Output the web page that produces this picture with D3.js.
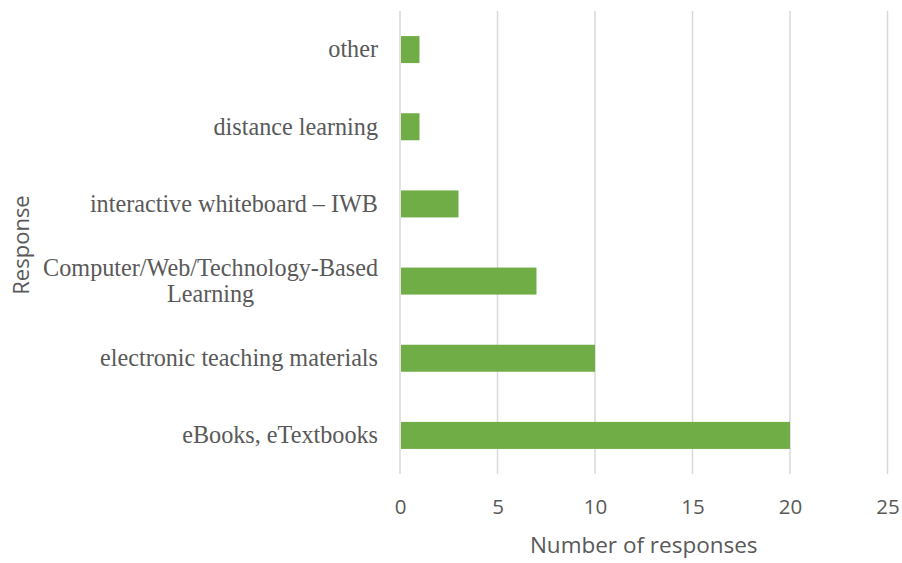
<!DOCTYPE html>
<html>
<head>
<meta charset="utf-8">
<script src="https://cdn.jsdelivr.net/npm/d3@7"></script>
<style>
  body { margin: 0; background: #fff; }
</style>
</head>
<body>
<div id="canvas"></div>
<script>
// categories top to bottom, as drawn
const categories = [
  "other",
  "distance learning",
  "interactive whiteboard – IWB",
  "Computer/Web/Technology-Based Learning",
  "electronic teaching materials",
  "eBooks, eTextbooks"
];
const values = [1, 1, 3, 7, 10, 20];
const xTicks = [0, 5, 10, 15, 20, 25];

// labels that wrap onto two lines
const wrapped = {
  "Computer/Web/Technology-Based Learning": ["Computer/Web/Technology-Based", "Learning"]
};

const width = 902;
const height = 563;
const margin = { top: 11, left: 400, bottom: 89, right: 14.5 };
const iwidth = width - margin.left - margin.right;
const iheight = height - margin.top - margin.bottom;

const svg = d3.select("#canvas").append("svg")
  .attr("width", width)
  .attr("height", height);

const g = svg.append("g").attr("transform", `translate(${margin.left},${margin.top})`);

const data = categories.map((c, i) => ({ name: c, value: values[i] }));

const x = d3.scaleLinear()
  .domain([0, 25])
  .range([0, iwidth]);

const y = d3.scaleBand()
  .domain(categories)
  .range([0, iheight])
  .paddingInner(0.65)
  .paddingOuter(0.325);

// gridlines
g.selectAll(".grid")
  .data(xTicks)
  .enter().append("line")
  .attr("class", "grid")
  .attr("x1", d => x(d)).attr("x2", d => x(d))
  .attr("y1", 0).attr("y2", iheight)
  .attr("stroke", "#d9d9d9")
  .attr("stroke-width", 1.5);

// bars
g.selectAll(".bar")
  .data(data)
  .enter().append("rect")
  .attr("class", "bar")
  .attr("x", x(0) + 1)
  .attr("y", d => y(d.name))
  .attr("width", d => x(d.value) - x(0) - 1)
  .attr("height", y.bandwidth())
  .attr("fill", "#70ad47");

// x axis
const xAxis = g.append("g")
  .attr("transform", `translate(0,${iheight})`)
  .call(d3.axisBottom(x).tickValues(xTicks).tickSize(0).tickPadding(25));
xAxis.select(".domain").remove();
xAxis.selectAll("text")
  .attr("fill", "#595959")
  .style("font-family", "'Open Sans', sans-serif")
  .style("font-size", "20.5px");

// y axis (category labels)
const yAxis = g.append("g")
  .call(d3.axisLeft(y).tickSize(0).tickPadding(22));
yAxis.select(".domain").remove();
yAxis.selectAll("text")
  .attr("fill", "#595959")
  .style("font-family", "'Liberation Serif', 'Times New Roman', serif")
  .style("font-size", "24.2px")
  .each(function(d) {
    const lines = wrapped[d];
    if (!lines) return;
    const t = d3.select(this).text(null).attr("dy", null);
    const lh = 26;
    const first = t.append("tspan").attr("x", -22).attr("y", 0)
      .attr("dy", (-lh / 2 + 8) + "px").text(lines[0]);
    const fw = first.node().getComputedTextLength();
    // remaining lines centred under the first
    lines.slice(1).forEach(l => {
      t.append("tspan")
        .attr("x", -22 - fw / 2)
        .attr("y", 0)
        .attr("dy", (lh / 2 + 8) + "px")
        .attr("text-anchor", "middle")
        .text(l);
    });
  });

// axis titles
svg.append("text")
  .attr("x", margin.left + x(12.5))
  .attr("y", 553)
  .attr("text-anchor", "middle")
  .attr("fill", "#595959")
  .style("font-family", "'Open Sans', sans-serif")
  .style("font-size", "22.5px")
  .text("Number of responses");

svg.append("text")
  .attr("transform", "translate(29,245) rotate(-90)")
  .attr("text-anchor", "middle")
  .attr("fill", "#595959")
  .style("font-family", "'Open Sans', sans-serif")
  .style("font-size", "22px")
  .text("Response");
</script>
</body>
</html>
